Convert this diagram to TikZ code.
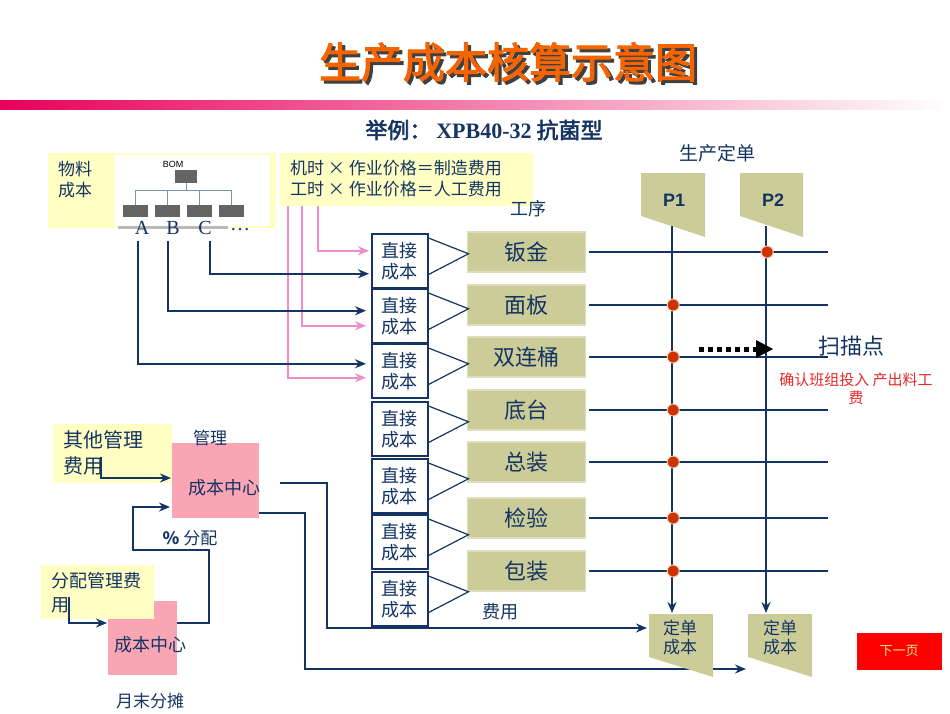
\documentclass[tikz,border=0pt]{standalone}
\usepackage{fontspec}
\setmainfont{Liberation Serif}
\setsansfont{Liberation Sans}
\newfontfamily\cjk{Noto Sans CJK SC}
\newfontfamily\cjkb{Noto Sans CJK SC}[FakeBold=2.5]
\usetikzlibrary{arrows.meta,calc}
\definecolor{navy}{RGB}{20,52,98}
\definecolor{olive}{RGB}{204,204,153}
\definecolor{olivebd}{RGB}{222,222,190}
\definecolor{yel}{RGB}{255,255,196}
\definecolor{pinkbx}{RGB}{250,165,180}
\definecolor{pinkln}{RGB}{240,140,200}
\definecolor{dotred}{RGB}{204,51,0}
\definecolor{dotbd}{RGB}{250,200,170}
\definecolor{titleor}{RGB}{245,100,0}
\definecolor{barpink}{RGB}{232,0,90}
\definecolor{barmid}{RGB}{242,120,170}
\definecolor{bomgray}{RGB}{100,100,100}
\definecolor{bomln}{RGB}{120,150,180}
\definecolor{redtxt}{RGB}{230,40,40}
\newcommand\fs[2]{\fontsize{#1}{#2}\selectfont}
\begin{document}
\begin{tikzpicture}[x=1pt,y=-1pt, font=\cjk,
  lbl/.style={text=navy, inner sep=0pt},
  navyarr/.style={draw=navy, line width=2.2pt, -{Stealth[length=11pt,width=9pt]}},
  pinkarr/.style={draw=pinkln, line width=2pt, -{Stealth[length=11pt,width=9pt]}},
  dcbox/.style={draw=navy, line width=1.5pt, fill=white, minimum width=56pt, minimum height=54pt, inner sep=0pt, anchor=north west, text=navy, align=center, font=\cjk\fs{18}{21}},
  pbox/.style={fill=olive, draw=olivebd, line width=1.2pt, minimum width=118pt, minimum height=40pt, anchor=west, text=navy, font=\cjk\fs{22}{24}},
  thinln/.style={draw=navy, line width=1.2pt},
  rdot/.style={circle, fill=dotred, draw=dotbd, line width=1pt, minimum size=12pt, inner sep=0pt},
  bombox/.style={fill=bomgray, minimum width=25pt, minimum height=12pt, inner sep=0pt, anchor=north west},
  yelbox/.style={fill=yel, inner sep=0pt, anchor=north west},
  pinkbox/.style={fill=pinkbx, inner sep=0pt, anchor=north west},
]
\useasboundingbox (0,0) rectangle (950,713);
% title
\node[text=black!75, font=\cjkb\fs{42}{42}] (titsh) at (511,65) {生产成本核算示意图};
\node[text=titleor, font=\cjkb\fs{42}{42}] (title) at (508,62) {生产成本核算示意图};
\shade[left color=barpink, middle color=barmid, right color=white] (0,100) rectangle (950,109);
\node[lbl, font=\cjkb\fs{22}{22}] (sub) at (484,130) {举例：\ {\rmfamily\bfseries XPB40-32} 抗菌型};

% material box with BOM
\node[yelbox, minimum width=228pt, minimum height=75pt] (mat) at (48,153) {};
\node[lbl, align=left, anchor=north west, font=\cjk\fs{17}{21}] (matt) at (58,161) {物料\\成本};
\fill[gray!55] (118,224) rectangle (228,229);
\node[fill=white, minimum width=155pt, minimum height=71pt, inner sep=0pt, anchor=north west] (bom) at (115,155) {};
\node[inner sep=0pt, font=\sffamily\fs{9}{9}] (bomt) at (173,164) {BOM};
\node[bombox, minimum width=22pt, minimum height=13pt] (bt) at (175,170) {};
\node[bombox] (c1) at (123,205) {};
\node[bombox] (c2) at (155,205) {};
\node[bombox] (c3) at (187,205) {};
\node[bombox] (c4) at (219,205) {};
\draw[bomln, line width=1pt] (bt.south) -- ++(0,7) coordinate (bj);
\draw[bomln, line width=1pt] (c1.north) |- (bj) -| (c4.north);
\draw[bomln, line width=1pt] (c2.north) -- (c2.north |- bj);
\draw[bomln, line width=1pt] (c3.north) -- (c3.north |- bj);
\node[lbl, font=\fs{20}{20}] (la) at (142,228) {A};
\node[lbl, font=\fs{20}{20}] (lb) at (173,228) {B};
\node[lbl, font=\fs{20}{20}] (lC) at (205,228) {C};
\node[lbl, font=\fs{20}{20}] (ldots) at (240,230) {\dots};

% formula box
\node[yelbox, minimum width=253pt, minimum height=53pt] (fm) at (280,153) {};
\node[lbl, align=left, anchor=north west, font=\cjk\fs{17}{21}] (fmt) at (290,160) {机时 × 作业价格＝制造费用\\工时 × 作业价格＝人工费用};
\node[lbl, font=\cjk\fs{18}{18}] (gx) at (528,209) {工序};

% direct cost boxes
\node[dcbox] (dc1) at (371,233) {直接\\成本};
\node[dcbox] (dc2) at (371,288) {直接\\成本};
\node[dcbox] (dc3) at (371,343) {直接\\成本};
\node[dcbox] (dc4) at (371,401) {直接\\成本};
\node[dcbox] (dc5) at (371,458) {直接\\成本};
\node[dcbox] (dc6) at (371,514) {直接\\成本};
\node[dcbox] (dc7) at (371,571) {直接\\成本};

% process boxes
\node[pbox] (pb1) at (467,252) {钣金};
\node[pbox] (pb2) at (467,305) {面板};
\node[pbox] (pb3) at (467,357) {双连桶};
\node[pbox] (pb4) at (467,410) {底台};
\node[pbox] (pb5) at (467,462) {总装};
\node[pbox] (pb6) at (467,518) {检验};
\node[pbox] (pb7) at (467,571) {包装};

\foreach \i in {1,...,7}{
  \coordinate (ap\i) at ($(dc\i.east)+(40,-7)$);
  \draw[thinln] ($(dc\i.north east)+(0,5)$) -- (ap\i) -- ($(dc\i.south east)+(0,-14)$);
  \coordinate (he\i) at ($(pb\i.east)+(242,0)$);
  \draw[thinln] ($(pb\i.east)+(3,0)$) -- (he\i);
}

% pink arrows
\draw[pinkarr] ($(fm.south west)+(38,0)$) |- ($(dc1.west)+(-2,-10)$);
\draw[pinkarr] ($(fm.south west)+(22,0)$) |- ($(dc2.west)+(-5,10)$);
\draw[pinkarr] ($(fm.south west)+(8,0)$) |- ($(dc3.west)+(-5,7)$);
% navy arrows from materials
\draw[navyarr] ($(la.south)+(-4,6)$) |- ($(dc3.west)+(-5,-7)$);
\draw[navyarr] ($(lb.south)+(-5,6)$) |- ($(dc2.west)+(-5,-5)$);
\draw[navyarr] ($(lC.south)+(5,6)$) |- ($(dc1.west)+(-2,13)$);

% production orders
\node[lbl, font=\cjk\fs{19}{19}] (scd) at (717,153) {生产定单};
\fill[olive] (641,173) -- (705,173) -- (705,237) -- (641,216) -- cycle;
\fill[olive] (740,173) -- (803,173) -- (803,237) -- (740,216) -- cycle;
\node[lbl, font=\sffamily\bfseries\fs{18}{18}] (p1) at (674,200) {P1};
\node[lbl, font=\sffamily\bfseries\fs{18}{18}] (p2) at (773,200) {P2};
\coordinate (p1b) at (672,226);
\coordinate (p2b) at (766,226);
\coordinate (oc1t) at (672,613);
\coordinate (oc2t) at (766,613);
\coordinate (oc1w) at (647,628);
\coordinate (oc2w) at (746,669);

% management cost lines
\node[pinkbox, minimum width=87pt, minimum height=75pt] (mc) at (172,443) {};
\coordinate (mco1) at (280,483);
\draw[navyarr] (mco1) -| (327,560) |- (oc1w);
\draw[navyarr] ($(mc.north east)+(0,70)$) -| (305,600) |- (oc2w);

\draw[navyarr] (p1b) -- (oc1t);
\draw[navyarr] (p2b) -- (oc2t);

% order cost shapes
\fill[olive] (649,614) -- (713,614) -- (713,677) -- (649,657) -- cycle;
\fill[olive] (748,614) -- (812,614) -- (812,677) -- (748,657) -- cycle;
\node[lbl, align=center, font=\cjk\fs{17}{19}] (oc1) at (680,638) {定单\\成本};
\node[lbl, align=center, font=\cjk\fs{17}{19}] (oc2) at (780,638) {定单\\成本};

% dots
\node[rdot] (d1) at ($(pb1.east)+(181,0)$) {};
\foreach \i in {2,...,7}{
  \node[rdot] (dd\i) at ($(pb\i.east)+(87,0)$) {};
}

% scan point
\coordinate (scA) at (699,349);
\coordinate (scB) at (756,349);
\coordinate (scC) at (773,349);
\draw[black, line width=5pt, dash pattern=on 5pt off 4pt] (scA) -- (scB);
\fill[black] ($(scB)+(0,-9)$) -- (scC) -- ($(scB)+(0,9)$) -- cycle;
\node[lbl, font=\cjk\fs{22}{22}] (smd) at (851,346) {扫描点};
\node[inner sep=0pt, text=redtxt, align=center, font=\cjk\fs{15}{18}] (qr) at (856,389) {确认班组投入 产出料工\\费};

\node[lbl, font=\cjk\fs{18}{18}] (fy) at (500,612) {费用};

% next page button
\node[fill=red, minimum width=85pt, minimum height=37pt, inner sep=0pt, text=yellow!60!orange!40, font=\cjk\fs{13}{13}] (next) at (899,651) {下一页};

% left bottom
\node[yelbox, minimum width=119pt, minimum height=59pt] (oth) at (53,424) {};
\node[lbl, align=left, anchor=north west, font=\cjk\fs{20}{26}] (otht) at (63,430) {其他管理\\费用};
\node[lbl, font=\cjk\fs{17}{17}] (gl) at (210,438) {管理};
\node[lbl, font=\cjk\fs{18}{18}] (mct) at (224,488) {成本中心};
\draw[navyarr] ($(oth.north west)+(48,33)$) |- ($(mc.north west)+(-1,35)$);

\node[pinkbox, minimum width=69pt, minimum height=74pt] (lc) at (108,601) {};
\node[lbl, font=\cjk\fs{18}{18}] (lct) at (150,645) {成本中心};
\node[yelbox, minimum width=113pt, minimum height=54pt] (fa) at (41,565) {};
\node[lbl, align=left, anchor=north west, font=\cjk\fs{18}{24}] (fat) at (51,572) {分配管理费\\用};
\draw[navyarr] ($(fa.north west)+(28,32)$) |- ($(lc.north west)+(-1,22)$);
\draw[navyarr] ($(lc.north east)+(0,22)$) -- (209,623) -- (209,550) -- (133,550) |- ($(mc.north west)+(-2,64)$);
\node[lbl, font=\cjk\fs{17}{17}] (fp) at (190,538) {\textbf{\%}\ 分配};
\node[lbl, font=\cjk\fs{17}{17}] (ymft) at (150,701) {月末分摊};
\end{tikzpicture}
\end{document}
